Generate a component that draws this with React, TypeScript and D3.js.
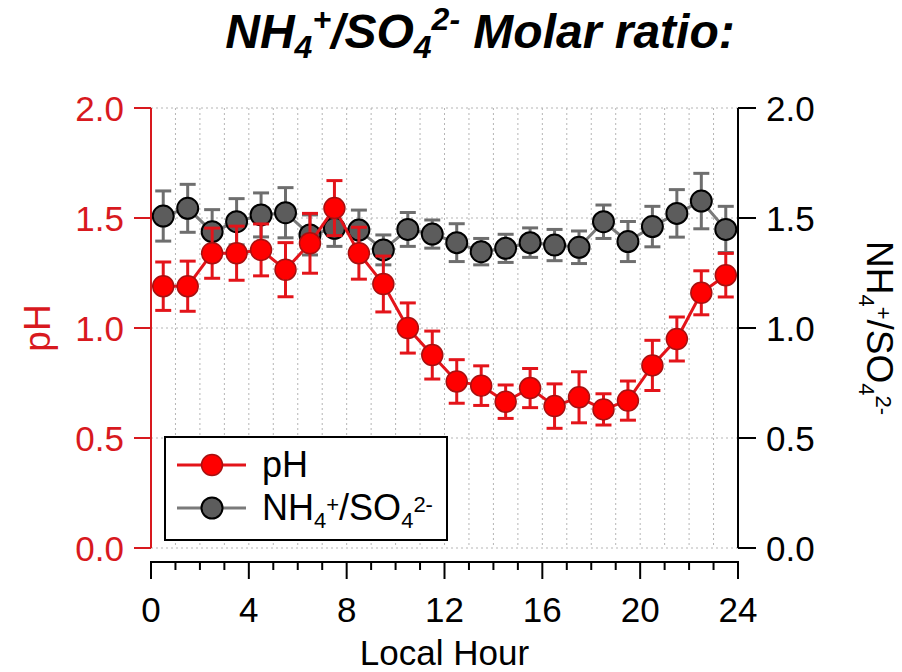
import React from "react";
import * as d3 from "d3";

const hours = [0.5, 1.5, 2.5, 3.5, 4.5, 5.5, 6.5, 7.5, 8.5, 9.5, 10.5, 11.5, 12.5, 13.5, 14.5, 15.5, 16.5, 17.5, 18.5, 19.5, 20.5, 21.5, 22.5, 23.5];
const pH = [1.19, 1.19, 1.34, 1.34, 1.355, 1.265, 1.385, 1.545, 1.34, 1.2, 1.0, 0.877, 0.757, 0.738, 0.665, 0.727, 0.645, 0.685, 0.63, 0.67, 0.83, 0.95, 1.16, 1.24];
const pHErr = [0.11, 0.114, 0.114, 0.123, 0.118, 0.123, 0.136, 0.125, 0.118, 0.127, 0.114, 0.109, 0.099, 0.09, 0.076, 0.089, 0.101, 0.116, 0.071, 0.089, 0.114, 0.1, 0.1, 0.099];
const ratio = [1.509, 1.544, 1.438, 1.483, 1.514, 1.524, 1.423, 1.453, 1.445, 1.355, 1.448, 1.427, 1.388, 1.347, 1.362, 1.388, 1.377, 1.367, 1.483, 1.393, 1.461, 1.521, 1.577, 1.448];
const ratioErr = [0.114, 0.109, 0.1, 0.105, 0.1, 0.114, 0.091, 0.082, 0.091, 0.068, 0.077, 0.064, 0.086, 0.06, 0.064, 0.067, 0.071, 0.074, 0.076, 0.091, 0.092, 0.108, 0.126, 0.105];
const xMajorTicks = [0, 4, 8, 12, 16, 20, 24];
const yTicks = [0, 0.5, 1.0, 1.5, 2.0];

const RED = "#e3141a";
const RED_AXIS = "#d8191e";
const GRAY_LINE = "#7a7a7a";
const GRAY_FILL = "#5c5c5c";
const FONT = "'Liberation Sans', Arial, sans-serif";

export default function App() {
  const x = d3.scaleLinear().domain([0, 24]).range([151, 738]);
  const y = d3.scaleLinear().domain([0, 2]).range([548, 108]);
  const minorTicks = d3.range(0, 25);
  const line = d3.line<[number, number]>().x((d) => x(d[0])).y((d) => y(d[1]));
  const pHPts = hours.map((h, i) => [h, pH[i]] as [number, number]);
  const rPts = hours.map((h, i) => [h, ratio[i]] as [number, number]);
  const cap = 8;
  const r = 10.5;

  const errBars = (vals: number[], errs: number[], color: string) =>
    hours.map((h, i) => {
      const cx = x(h);
      const y1 = y(vals[i] + errs[i]);
      const y2 = y(vals[i] - errs[i]);
      return (
        <g key={i} stroke={color} strokeWidth={3}>
          <line x1={cx} x2={cx} y1={y1} y2={y2} />
          <line x1={cx - cap} x2={cx + cap} y1={y1} y2={y1} />
          <line x1={cx - cap} x2={cx + cap} y1={y2} y2={y2} />
        </g>
      );
    });

  const ionLabel = (big: number) => {
    const small = Math.round(big * 0.6);
    const sub = Math.round(big * 0.22);
    const sup = Math.round(big * 0.45);
    return [
      "NH",
      <tspan key="a" fontSize={small} dy={sub}>4</tspan>,
      <tspan key="b" fontSize={small} dy={-sup}>+</tspan>,
      <tspan key="c" fontSize={big} dy={sup - sub}>/SO</tspan>,
      <tspan key="d" fontSize={small} dy={sub}>4</tspan>,
      <tspan key="e" fontSize={small} dy={-sup}>2-</tspan>,
    ];
  };

  return (
    <svg width={902} height={672} style={{ position: "absolute", left: 0, top: 0, background: "#fff" }} fontFamily={FONT}>
      {/* Title */}
      <text x={480} y={48} textAnchor="middle" fontSize={48} fontWeight="bold" fontStyle="italic" fill="#000">
        NH<tspan fontSize={32} dy={10}>4</tspan>
        <tspan fontSize={32} dy={-28}>+</tspan>
        <tspan fontSize={48} dy={18}>/SO</tspan>
        <tspan fontSize={32} dy={10}>4</tspan>
        <tspan fontSize={32} dy={-28}>2-</tspan>
        <tspan fontSize={48} dy={18}> Molar ratio:</tspan>
      </text>

      {/* Grid */}
      <g stroke="#b5b5b5" strokeWidth={1} strokeDasharray="2,3">
        {minorTicks.map((t) => (
          <line key={"gx" + t} x1={x(t)} x2={x(t)} y1={y(2)} y2={y(0)} />
        ))}
        {yTicks.map((t) => (
          <line key={"gy" + t} x1={x(0)} x2={x(24)} y1={y(t)} y2={y(t)} />
        ))}
      </g>

      {/* Ratio series (gray) */}
      <path d={line(rPts) || ""} fill="none" stroke={GRAY_LINE} strokeWidth={3} />
      {errBars(ratio, ratioErr, "#6e6e6e")}
      {rPts.map((p, i) => (
        <circle key={"rc" + i} cx={x(p[0])} cy={y(p[1])} r={r} fill={GRAY_FILL} stroke="#000" strokeWidth={2} />
      ))}

      {/* pH series (red) */}
      <path d={line(pHPts) || ""} fill="none" stroke={RED} strokeWidth={3} />
      {errBars(pH, pHErr, RED)}
      {pHPts.map((p, i) => (
        <circle key={"pc" + i} cx={x(p[0])} cy={y(p[1])} r={r} fill="#ff0000" stroke="#a81010" strokeWidth={1.5} />
      ))}

      {/* Left axis */}
      <g stroke={RED_AXIS} strokeWidth={2}>
        <line x1={x(0)} x2={x(0)} y1={y(2)} y2={y(0)} />
        {yTicks.map((t) => (
          <line key={"lt" + t} x1={x(0) - 17} x2={x(0)} y1={y(t)} y2={y(t)} />
        ))}
      </g>
      {yTicks.map((t) => (
        <text key={"ll" + t} x={124} y={y(t)} dy="0.36em" textAnchor="end" fontSize={35} fill={RED_AXIS}>
          {d3.format(".1f")(t)}
        </text>
      ))}
      <text transform={`translate(50, ${(y(0) + y(2)) / 2}) rotate(-90)`} textAnchor="middle" fontSize={37} fill={RED_AXIS}>
        pH
      </text>

      {/* Right axis */}
      <g stroke="#000" strokeWidth={2}>
        <line x1={x(24)} x2={x(24)} y1={y(2)} y2={y(0)} />
        {yTicks.map((t) => (
          <line key={"rt" + t} x1={x(24)} x2={x(24) + 18} y1={y(t)} y2={y(t)} />
        ))}
      </g>
      {yTicks.map((t) => (
        <text key={"rl" + t} x={766} y={y(t)} dy="0.36em" textAnchor="start" fontSize={35} fill="#000">
          {d3.format(".1f")(t)}
        </text>
      ))}
      <text transform={`translate(867, ${(y(0) + y(2)) / 2}) rotate(90)`} textAnchor="middle" fontSize={37} fill="#000">
        {ionLabel(37)}
      </text>

      {/* Bottom axis */}
      <g stroke="#000" strokeWidth={2}>
        <line x1={x(0) - 1} x2={x(24) + 1} y1={562} y2={562} />
        {minorTicks.map((t) => (
          <line key={"bt" + t} x1={x(t)} x2={x(t)} y1={562} y2={t % 4 === 0 ? 579 : 570} />
        ))}
      </g>
      {xMajorTicks.map((t) => (
        <text key={"bl" + t} x={x(t)} y={622} textAnchor="middle" fontSize={35} fill="#000">
          {t}
        </text>
      ))}
      <text x={(x(0) + x(24)) / 2} y={665} textAnchor="middle" fontSize={35} fill="#000">
        Local Hour
      </text>

      {/* Legend */}
      <rect x={165} y={437} width={282} height={103} fill="#fff" stroke="#000" strokeWidth={2} />
      <line x1={177} x2={246} y1={465} y2={465} stroke={RED} strokeWidth={3} />
      <circle cx={212} cy={465} r={r} fill="#ff0000" stroke="#a81010" strokeWidth={1.5} />
      <text x={262} y={477} fontSize={36} fill="#000">pH</text>
      <line x1={177} x2={246} y1={508} y2={508} stroke={GRAY_LINE} strokeWidth={3} />
      <circle cx={212} cy={508} r={r} fill={GRAY_FILL} stroke="#000" strokeWidth={2} />
      <text x={262} y={520} fontSize={36} fill="#000">
        {ionLabel(36)}
      </text>
    </svg>
  );
}
